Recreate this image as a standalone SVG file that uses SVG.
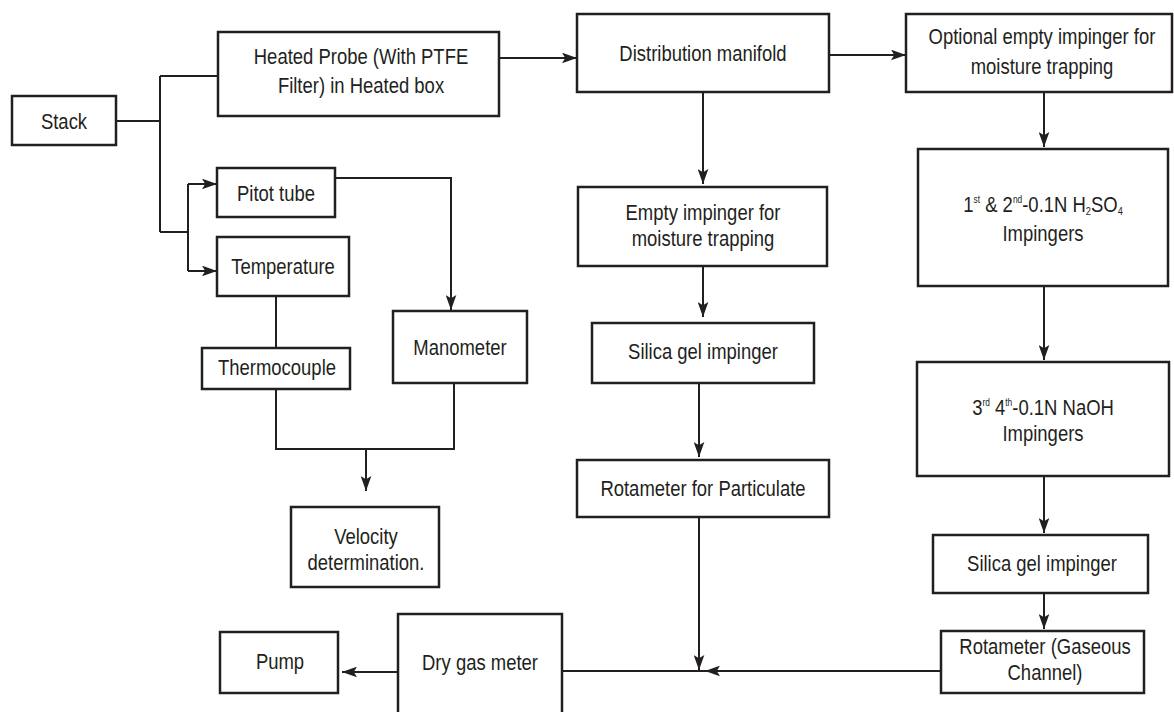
<svg xmlns="http://www.w3.org/2000/svg" width="1174" height="712" viewBox="0 0 1174 712">
<style>
.box{fill:#fff;stroke:#231f20;stroke-width:2.5}
.ln{fill:none;stroke:#231f20;stroke-width:2}
.ar{fill:none;stroke:#231f20;stroke-width:2;marker-end:url(#ah)}
text{font-family:"Liberation Sans",Arial,sans-serif;font-size:22px;fill:#231f20;text-anchor:middle}
.sup{font-size:10px}
.sub{font-size:11px}
</style>
<defs>
<marker id="ah" markerUnits="userSpaceOnUse" viewBox="0 0 14 10" refX="14" refY="5" markerWidth="15" markerHeight="11" orient="auto">
<path d="M0,0 L14,5 L0,10 L3,5 Z" fill="#231f20"/>
</marker>
</defs>
<rect width="1174" height="712" fill="#fff"/>
<g id="connectors">
<path class="ln" d="M116,121 H160 M160,76 V232 M160,76 H218 M160,232 H188 M188,184 V271"/>
<path class="ar" d="M188,184 H217"/>
<path class="ar" d="M188,271 H217"/>
<path class="ar" d="M499,58 H577"/>
<path class="ar" d="M829,55 H906"/>
<path class="ar" d="M703,92 V184"/>
<path class="ar" d="M703,266 V317"/>
<path class="ar" d="M699,383 V457"/>
<path class="ar" d="M699,517 V670"/>
<path class="ar" d="M941,671 H705"/>
<path class="ln" d="M705,671 H562"/>
<path class="ar" d="M398,672 H342"/>
<path class="ar" d="M1044,92 V147"/>
<path class="ar" d="M1044,286 V360"/>
<path class="ar" d="M1044,476 V533"/>
<path class="ar" d="M1044,593 V629"/>
<path class="ar" d="M335,178 H451 V310"/>
<path class="ln" d="M276,296 V348"/>
<path class="ln" d="M276,389 V449 H454 V383"/>
<path class="ar" d="M366,449 V491"/>
</g>
<g id="stack"><rect class="box" x="12" y="96" width="104" height="49"/><text transform="translate(64,128.5) scale(0.84,1)">Stack</text></g>
<g id="heated-probe"><rect class="box" x="218" y="32" width="281" height="84"/><text transform="translate(361,64) scale(0.84,1)"><tspan x="0">Heated Probe (With PTFE</tspan><tspan x="0" dy="29">Filter) in Heated box</tspan></text></g>
<g id="pitot-tube"><rect class="box" x="217" y="168" width="118" height="49"/><text transform="translate(276,201) scale(0.84,1)">Pitot tube</text></g>
<g id="temperature"><rect class="box" x="217" y="237" width="132" height="59"/><text transform="translate(283,274) scale(0.84,1)">Temperature</text></g>
<g id="thermocouple"><rect class="box" x="202" y="348" width="148" height="41"/><text transform="translate(277,375) scale(0.84,1)">Thermocouple</text></g>
<g id="manometer"><rect class="box" x="393" y="311" width="134" height="72"/><text transform="translate(460,355) scale(0.84,1)">Manometer</text></g>
<g id="velocity"><rect class="box" x="291" y="507" width="148" height="80"/><text transform="translate(366,544) scale(0.84,1)"><tspan x="0">Velocity</tspan><tspan x="0" dy="26">determination.</tspan></text></g>
<g id="pump"><rect class="box" x="220" y="632" width="118" height="61"/><text transform="translate(280,669) scale(0.84,1)">Pump</text></g>
<g id="dry-gas-meter"><rect class="box" x="398" y="614" width="164" height="110"/><text transform="translate(480,670) scale(0.84,1)">Dry gas meter</text></g>
<g id="distribution-manifold"><rect class="box" x="577" y="14" width="252" height="78"/><text transform="translate(703,61) scale(0.84,1)">Distribution manifold</text></g>
<g id="empty-impinger"><rect class="box" x="578" y="187" width="249" height="79"/><text transform="translate(703,220) scale(0.84,1)"><tspan x="0">Empty impinger for</tspan><tspan x="0" dy="26">moisture trapping</tspan></text></g>
<g id="silica-gel-particulate"><rect class="box" x="592" y="323" width="222" height="60"/><text transform="translate(703,359) scale(0.84,1)">Silica gel impinger</text></g>
<g id="rotameter-particulate"><rect class="box" x="577" y="460" width="252" height="57"/><text transform="translate(703,496) scale(0.84,1)">Rotameter for Particulate</text></g>
<g id="optional-impinger"><rect class="box" x="906" y="14" width="266" height="78"/><text transform="translate(1042,44) scale(0.84,1)"><tspan x="0">Optional empty impinger for</tspan><tspan x="0" dy="30">moisture trapping</tspan></text></g>
<g id="h2so4-impingers"><rect class="box" x="918" y="149" width="250" height="137"/><text transform="translate(1043,212) scale(0.84,1)">1<tspan class="sup" dy="-9">st</tspan><tspan dy="9"> &amp; 2</tspan><tspan class="sup" dy="-9">nd</tspan><tspan dy="9">-0.1N H</tspan><tspan class="sub" dy="3">2</tspan><tspan dy="-3">SO</tspan><tspan class="sub" dy="3">4</tspan></text><text transform="translate(1043,241) scale(0.84,1)">Impingers</text></g>
<g id="naoh-impingers"><rect class="box" x="917" y="362" width="252" height="114"/><text transform="translate(1043,415) scale(0.84,1)">3<tspan class="sup" dy="-9">rd</tspan><tspan dy="9"> 4</tspan><tspan class="sup" dy="-9">th</tspan><tspan dy="9">-0.1N NaOH</tspan></text><text transform="translate(1043,441) scale(0.84,1)">Impingers</text></g>
<g id="silica-gel-gaseous"><rect class="box" x="933" y="535" width="215" height="58"/><text transform="translate(1042,571) scale(0.84,1)">Silica gel impinger</text></g>
<g id="rotameter-gaseous"><rect class="box" x="941" y="631" width="203" height="62"/><text transform="translate(1045,654) scale(0.84,1)"><tspan x="0">Rotameter (Gaseous</tspan><tspan x="0" dy="26">Channel)</tspan></text></g>
</svg>
